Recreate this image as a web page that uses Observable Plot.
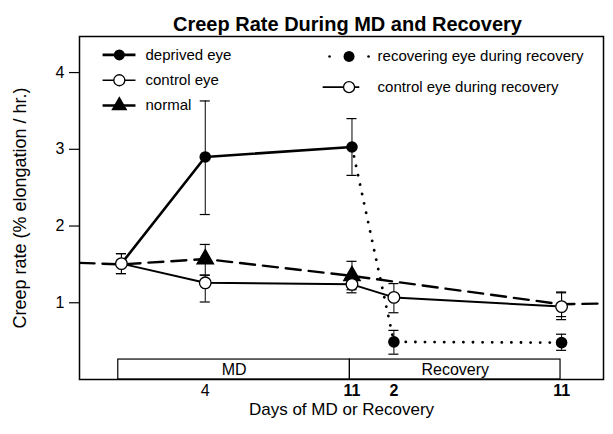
<!DOCTYPE html>
<html><head><meta charset="utf-8">
<script src="https://cdn.jsdelivr.net/npm/d3@7"></script>
<script src="https://cdn.jsdelivr.net/npm/@observablehq/plot@0.6"></script>
<style>body{margin:0;background:#fff;color:#000;} svg{display:block;}</style>
</head><body><div id="chart"></div>
<script>
// ---- texts ----
const title = "Creep Rate During MD and Recovery";
const yLabel = "Creep rate (% elongation / hr.)";
const xLabel = "Days of MD or Recovery";

// ---- axis ticks (x: position along the day axis, recovery continues after MD day 11) ----
const xTickPos = [4, 11, 13, 21];
const xTickLabels = ["4", "11", "2", "11"];
const yTicks = [1, 2, 3, 4];

// ---- MD phase ----
const mdDays = [0, 4, 11];
const deprived = [1.51, 2.90, 3.03];
const deprivedLo = [1.38, 2.15, 2.66];
const deprivedHi = [1.64, 3.63, 3.40];
const control = [1.51, 1.26, 1.24];
const controlLo = [1.38, 1.01, 1.13];
const controlHi = [1.64, 1.36, 1.35];

// ---- normal eyes (line runs across the whole chart) ----
const normalDays = [-2, 0, 4, 11, 21, 23];
const normal = [1.52, 1.50, 1.57, 1.35, 0.98, 0.99];
const normalMarkDays = [4, 11];
const normalBarDays = [4, 11, 21];
const normalLo = [1.36, 1.17, 0.82];
const normalHi = [1.76, 1.54, 1.13];

// ---- recovery phase ----
const recDays = [11, 13, 21];
const recovering = [3.03, 0.49, 0.48];
const recoveringLo = [null, 0.33, 0.38];
const recoveringHi = [null, 0.64, 0.59];
const controlRec = [1.24, 1.07, 0.95];
const controlRecLo = [null, 0.87, 0.78];
const controlRecHi = [null, 1.25, 1.14];

// ---- phase boxes ----
const phases = ["MD", "Recovery"];
const phaseStart = [-0.15, 10.9];
const phaseEnd = [10.9, 20.95];

// ---- legend ----
const legendLeft = ["deprived eye", "control eye", "normal"];
const legendRight = ["recovering eye during recovery", "control eye during recovery"];

// ---------- build tables ----------
const zip = (xs, ys, lo, hi) => xs.map((x, i) => ({x, y: ys[i], lo: lo ? lo[i] : null, hi: hi ? hi[i] : null}));
const dep = zip(mdDays, deprived, deprivedLo, deprivedHi);
const con = zip(mdDays, control, controlLo, controlHi);
const nor = zip(normalDays, normal);
const norBars = normalBarDays.map((x, i) => ({x, lo: normalLo[i], hi: normalHi[i]}));
const rec = zip(recDays, recovering, recoveringLo, recoveringHi);
const conR = zip(recDays, controlRec, controlRecLo, controlRecHi);
const bars = [...dep, ...con, ...norBars, ...rec, ...conR].filter(d => d.lo != null);
const box = phases.map((p, i) => ({p, x1: phaseStart[i], x2: phaseEnd[i]}));
const normalMarks = nor.filter(d => normalMarkDays.includes(d.x));

// layout constants (data units)
const cap = 0.24;
const boxTop = 0.26;
const font = "Liberation Sans, Arial, sans-serif";
const W = 613, H = 434;

// legend layout
const LL = {lx1: -0.9, lx2: 0.67, mx: -0.1, tx: 1.15, ys: [4.23, 3.9, 3.57]};
const LR = {d1: 9.93, d2: 11.79, lx1: 9.6, lx2: 11.35, mx: 10.86, tx: 12.22, ys: [4.21, 3.81]};

const legL = legendLeft.map((t, i) => ({t, y: LL.ys[i], i}));
const legR = legendRight.map((t, i) => ({t, y: LR.ys[i], i}));

const chart = Plot.plot({
  width: W, height: H,
  marginLeft: 79, marginRight: 10, marginTop: 36, marginBottom: 55,
  style: {fontFamily: font, background: "white", color: "black"},
  x: {domain: [-2, 23], axis: null},
  y: {domain: [0, 4.47], axis: null},
  marks: [
    // phase boxes
    Plot.rect(box, {x1: "x1", x2: "x2", y1: 0, y2: boxTop, fill: "white", stroke: "black", strokeWidth: 1.2}),
    Plot.text(box, {x: d => (d.x1 + d.x2) / 2, y: boxTop / 2, text: "p", fontSize: 16, fill: "black"}),
    // normal dashed line
    Plot.line(nor, {x: "x", y: "y", stroke: "black", strokeWidth: 2.4, strokeDasharray: "15 8", clip: true}),
    // error bars
    Plot.ruleX(bars, {x: "x", y1: "lo", y2: "hi", stroke: "black", strokeWidth: 1}),
    Plot.ruleY(bars, {y: "lo", x1: d => d.x - cap, x2: d => d.x + cap, stroke: "black", strokeWidth: 1.2}),
    Plot.ruleY(bars, {y: "hi", x1: d => d.x - cap, x2: d => d.x + cap, stroke: "black", strokeWidth: 1.2}),
    // lines
    Plot.line(dep, {x: "x", y: "y", stroke: "black", strokeWidth: 2.6}),
    Plot.line(con, {x: "x", y: "y", stroke: "black", strokeWidth: 2}),
    Plot.line(rec, {x: "x", y: "y", stroke: "black", strokeWidth: 2.8, strokeDasharray: "0.1 9.5", strokeLinecap: "round"}),
    Plot.line(conR, {x: "x", y: "y", stroke: "black", strokeWidth: 2}),
    // markers
    Plot.dot(normalMarks, {x: "x", y: "y", symbol: "triangle", r: 6, fill: "black", stroke: "black"}),
    Plot.dot(dep, {x: "x", y: "y", r: 5.8, fill: "black"}),
    Plot.dot(rec.slice(1), {x: "x", y: "y", r: 5.8, fill: "black"}),
    Plot.dot(con, {x: "x", y: "y", r: 5.8, fill: "white", stroke: "black", strokeWidth: 1.3}),
    Plot.dot(conR.slice(1), {x: "x", y: "y", r: 5.8, fill: "white", stroke: "black", strokeWidth: 1.3}),
    // frame
    Plot.frame({stroke: "black", strokeWidth: 1.5}),
    // y axis
    Plot.axisY(yTicks, {tickSize: 10, tickPadding: 5, fontSize: 16, tickFormat: "d", label: null, stroke: "black", fill: "black", strokeWidth: 1.2}),
    // x tick labels
    Plot.text([xTickPos[0]], {x: d => d, frameAnchor: "bottom", dy: 16, text: () => xTickLabels[0], fontSize: 16, fill: "black"}),
    Plot.text(xTickPos.slice(1), {x: d => d, frameAnchor: "bottom", dy: 16, text: (d, i) => xTickLabels[i + 1], fontSize: 16, fontWeight: "bold", fill: "black"}),
    // axis labels & title
    Plot.text([xLabel], {frameAnchor: "bottom", dy: 35, text: d => d, fontSize: 17, fill: "black"}),
    Plot.text([yLabel], {frameAnchor: "left", textAnchor: "middle", dx: -59, rotate: -90, text: d => d, fontSize: 18, fill: "black"}),
    Plot.text([title], {frameAnchor: "top", dx: 6, dy: -20, text: d => d, fontSize: 20, fontWeight: "bold", fill: "black"}),
    // legend (left)
    Plot.link(legL, {x1: LL.lx1, x2: LL.lx2, y1: "y", y2: "y", stroke: "black", strokeWidth: d => d.i === 1 ? 1.6 : 2.6}),
    Plot.dot(legL.filter(d => d.i === 0), {x: LL.mx, y: "y", r: 5.5, fill: "black"}),
    Plot.dot(legL.filter(d => d.i === 1), {x: LL.mx, y: "y", r: 5.5, fill: "white", stroke: "black", strokeWidth: 1.3}),
    Plot.dot(legL.filter(d => d.i === 2), {x: LL.mx, y: "y", r: 6, symbol: "triangle", fill: "black"}),
    Plot.text(legL, {x: LL.tx, y: "y", text: "t", textAnchor: "start", fontSize: 15, fill: "black"}),
    // legend (right)
    Plot.dot(legR.filter(d => d.i === 0), {x: LR.d1, y: "y", r: 1.3, fill: "black"}),
    Plot.dot(legR.filter(d => d.i === 0), {x: LR.d2, y: "y", r: 1.3, fill: "black"}),
    Plot.dot(legR.filter(d => d.i === 0), {x: LR.mx, y: "y", r: 5.5, fill: "black"}),
    Plot.link(legR.filter(d => d.i === 1), {x1: LR.lx1, x2: LR.lx2, y1: "y", y2: "y", stroke: "black", strokeWidth: 1.6}),
    Plot.dot(legR.filter(d => d.i === 1), {x: LR.mx, y: "y", r: 5.5, fill: "white", stroke: "black", strokeWidth: 1.3}),
    Plot.text(legR, {x: LR.tx, y: "y", text: "t", textAnchor: "start", fontSize: 15, fill: "black"})
  ]
});
document.getElementById("chart").appendChild(chart);
</script>
</body></html>
